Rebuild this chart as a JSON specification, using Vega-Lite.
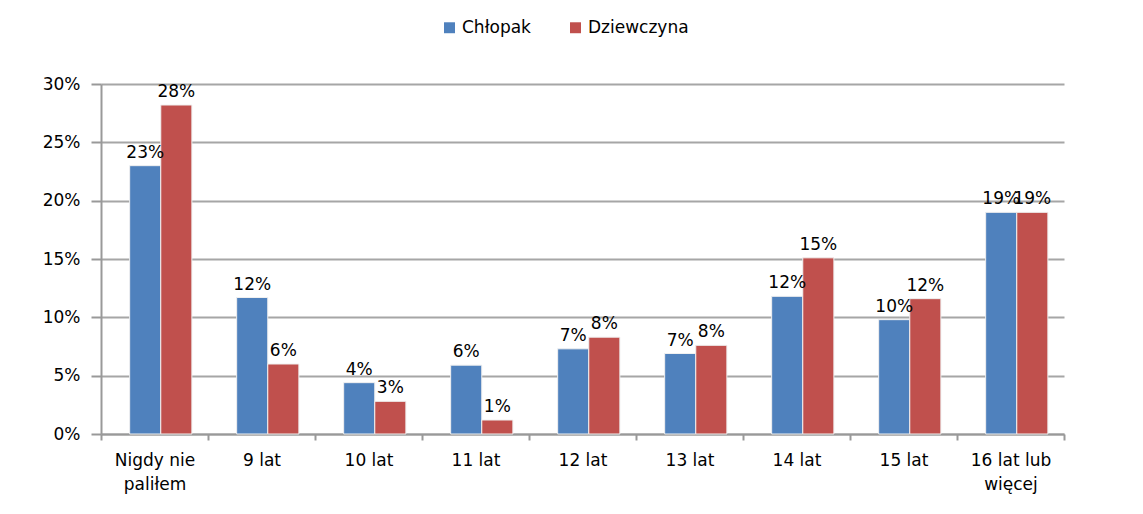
{
  "$schema": "https://vega.github.io/schema/vega-lite/v6.json",
  "autosize": "none",
  "width": 963,
  "height": 350,
  "padding": {"left": 101, "top": 84, "right": 79, "bottom": 80},
  "background": "white",
  "config": {
    "font": "DejaVu Sans",
    "view": {"stroke": null}
  },
  "data": {
    "values": [
      {"wiek": "Nigdy nie paliłem", "plec": "Chłopak", "udzial": 0.230},
      {"wiek": "Nigdy nie paliłem", "plec": "Dziewczyna", "udzial": 0.282},
      {"wiek": "9 lat", "plec": "Chłopak", "udzial": 0.117},
      {"wiek": "9 lat", "plec": "Dziewczyna", "udzial": 0.060},
      {"wiek": "10 lat", "plec": "Chłopak", "udzial": 0.044},
      {"wiek": "10 lat", "plec": "Dziewczyna", "udzial": 0.028},
      {"wiek": "11 lat", "plec": "Chłopak", "udzial": 0.059},
      {"wiek": "11 lat", "plec": "Dziewczyna", "udzial": 0.012},
      {"wiek": "12 lat", "plec": "Chłopak", "udzial": 0.073},
      {"wiek": "12 lat", "plec": "Dziewczyna", "udzial": 0.083},
      {"wiek": "13 lat", "plec": "Chłopak", "udzial": 0.069},
      {"wiek": "13 lat", "plec": "Dziewczyna", "udzial": 0.076},
      {"wiek": "14 lat", "plec": "Chłopak", "udzial": 0.118},
      {"wiek": "14 lat", "plec": "Dziewczyna", "udzial": 0.151},
      {"wiek": "15 lat", "plec": "Chłopak", "udzial": 0.098},
      {"wiek": "15 lat", "plec": "Dziewczyna", "udzial": 0.116},
      {"wiek": "16 lat lub więcej", "plec": "Chłopak", "udzial": 0.190},
      {"wiek": "16 lat lub więcej", "plec": "Dziewczyna", "udzial": 0.190}
    ]
  },
  "encoding": {
    "x": {
      "field": "wiek",
      "type": "nominal",
      "sort": null,
      "scale": {"paddingInner": 0, "paddingOuter": 0},
      "axis": {
        "title": null,
        "labelAngle": 0,
        "labelFontSize": 17,
        "labelColor": "#000000",
        "labelPadding": 12,
        "labelBaseline": "top",
        "labelLineHeight": 24,
        "labelExpr": "datum.label == 'Nigdy nie paliłem' ? ['Nigdy nie', 'paliłem'] : datum.label == '16 lat lub więcej' ? ['16 lat lub', 'więcej'] : datum.label",
        "domainColor": "#999999",
        "domainWidth": 2,
        "tickColor": "#999999",
        "tickWidth": 2,
        "tickSize": 6,
        "tickBand": "extent"
      }
    },
    "xOffset": {
      "field": "plec",
      "type": "nominal",
      "sort": ["Chłopak", "Dziewczyna"],
      "scale": {"paddingInner": 0, "paddingOuter": 0.72, "align": 0.64}
    },
    "y": {
      "field": "udzial",
      "type": "quantitative",
      "scale": {"domain": [0, 0.3], "nice": false},
      "axis": {
        "title": null,
        "format": "0%",
        "values": [0, 0.05, 0.1, 0.15, 0.2, 0.25, 0.3],
        "labelFontSize": 17,
        "labelColor": "#000000",
        "labelPadding": 11,
        "domainColor": "#999999",
        "domainWidth": 2,
        "tickColor": "#999999",
        "tickWidth": 2,
        "tickSize": 10,
        "gridColor": "#a6a6a6",
        "gridWidth": 2
      }
    }
  },
  "layer": [
    {
      "mark": {"type": "bar", "stroke": "#f0f0f0", "strokeWidth": 1},
      "encoding": {
        "color": {
          "field": "plec",
          "type": "nominal",
          "sort": ["Chłopak", "Dziewczyna"],
          "scale": {"domain": ["Chłopak", "Dziewczyna"], "range": ["#4F81BD", "#C0504D"]},
          "legend": {
            "title": null,
            "orient": "none",
            "direction": "horizontal",
            "legendX": 340,
            "legendY": -65,
            "symbolType": "square",
            "symbolSize": 120,
            "labelFontSize": 17,
            "labelColor": "#000000",
            "columnPadding": 36,
            "symbolStrokeWidth": 0
          }
        }
      }
    },
    {
      "mark": {"type": "text", "baseline": "bottom", "dy": -4, "fontSize": 17, "color": "#000000"},
      "encoding": {
        "text": {"field": "udzial", "type": "quantitative", "format": ".0%"}
      }
    }
  ]
}
